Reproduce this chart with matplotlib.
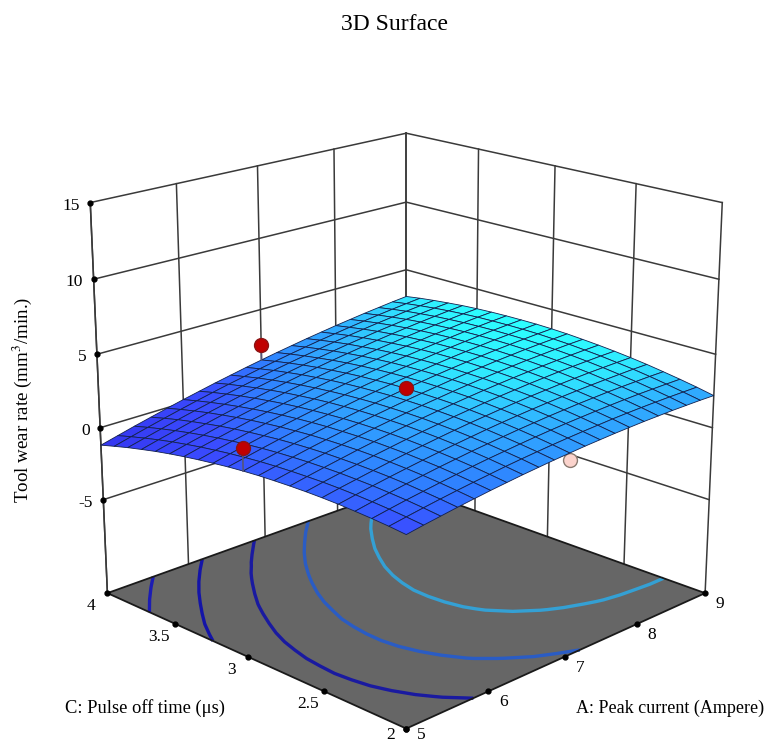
import numpy as np
import matplotlib
matplotlib.use("Agg")
import matplotlib.pyplot as plt
from matplotlib.colors import LinearSegmentedColormap
from mpl_toolkits.mplot3d import proj3d

plt.rcParams['font.family'] = ['Liberation Serif', 'DejaVu Serif']

# axis ticks
a_ticks = [5, 6, 7, 8, 9]
c_ticks = [2, 2.5, 3, 3.5, 4]
c_tick_labels = ['2', '2.5', '3', '3.5', '4']
z_ticks = [-5, 0, 5, 10, 15]
z_floor = -11.65

# surface values, one row per pulse off time (2 .. 4), one column per peak current (5 .. 9)
a_grid = [5.0, 5.2, 5.4, 5.6, 5.8, 6.0, 6.2, 6.4, 6.6, 6.8, 7.0, 7.2, 7.4, 7.6, 7.8, 8.0, 8.2, 8.4, 8.6, 8.8, 9.0]
c_grid = [2.0, 2.1, 2.2, 2.3, 2.4, 2.5, 2.6, 2.7, 2.8, 2.9, 3.0, 3.1, 3.2, 3.3, 3.4, 3.5, 3.6, 3.7, 3.8, 3.9, 4.0]
wear = [
    [.60, .78, .94, 1.10, 1.24, 1.38, 1.50, 1.62, 1.72, 1.82, 1.90, 1.98, 2.04, 2.10, 2.14, 2.18, 2.20, 2.22, 2.22, 2.22, 2.20],
    [.71, .89, 1.06, 1.22, 1.37, 1.51, 1.64, 1.77, 1.88, 1.98, 2.07, 2.15, 2.22, 2.28, 2.34, 2.38, 2.41, 2.43, 2.44, 2.44, 2.44],
    [.79, .98, 1.16, 1.32, 1.48, 1.63, 1.77, 1.90, 2.01, 2.12, 2.22, 2.31, 2.39, 2.45, 2.51, 2.56, 2.60, 2.63, 2.64, 2.65, 2.65],
    [.85, 1.05, 1.23, 1.41, 1.57, 1.73, 1.87, 2.01, 2.13, 2.24, 2.35, 2.44, 2.53, 2.60, 2.67, 2.72, 2.77, 2.80, 2.82, 2.84, 2.84],
    [.90, 1.10, 1.29, 1.47, 1.64, 1.80, 1.95, 2.09, 2.22, 2.35, 2.46, 2.56, 2.65, 2.73, 2.80, 2.86, 2.91, 2.95, 2.98, 3.01, 3.02],
    [.92, 1.13, 1.32, 1.51, 1.69, 1.86, 2.01, 2.16, 2.30, 2.43, 2.54, 2.65, 2.75, 2.84, 2.91, 2.98, 3.04, 3.09, 3.12, 3.15, 3.17],
    [.92, 1.14, 1.34, 1.53, 1.72, 1.89, 2.06, 2.21, 2.35, 2.49, 2.61, 2.73, 2.83, 2.92, 3.01, 3.08, 3.15, 3.20, 3.24, 3.28, 3.30],
    [.90, 1.12, 1.33, 1.53, 1.73, 1.91, 2.08, 2.24, 2.39, 2.53, 2.66, 2.78, 2.89, 2.99, 3.08, 3.16, 3.23, 3.29, 3.34, 3.38, 3.41],
    [.86, 1.09, 1.31, 1.52, 1.71, 1.90, 2.08, 2.24, 2.40, 2.55, 2.68, 2.81, 2.93, 3.04, 3.13, 3.22, 3.30, 3.36, 3.42, 3.47, 3.50],
    [.81, 1.04, 1.26, 1.48, 1.68, 1.87, 2.06, 2.23, 2.39, 2.55, 2.69, 2.82, 2.95, 3.06, 3.16, 3.26, 3.34, 3.42, 3.48, 3.53, 3.58],
    [.73, .97, 1.20, 1.42, 1.63, 1.83, 2.02, 2.20, 2.37, 2.53, 2.68, 2.82, 2.95, 3.07, 3.18, 3.28, 3.37, 3.45, 3.52, 3.58, 3.63],
    [.63, .87, 1.11, 1.34, 1.55, 1.76, 1.95, 2.14, 2.32, 2.48, 2.64, 2.79, 2.92, 3.05, 3.17, 3.27, 3.37, 3.46, 3.53, 3.60, 3.66],
    [.50, .76, 1.00, 1.23, 1.46, 1.67, 1.87, 2.07, 2.25, 2.42, 2.58, 2.74, 2.88, 3.01, 3.14, 3.25, 3.35, 3.45, 3.53, 3.60, 3.66],
    [.36, .62, .87, 1.11, 1.34, 1.56, 1.77, 1.97, 2.16, 2.34, 2.51, 2.67, 2.82, 2.96, 3.09, 3.21, 3.32, 3.42, 3.50, 3.58, 3.65],
    [.20, .47, .72, .97, 1.21, 1.43, 1.65, 1.85, 2.05, 2.24, 2.41, 2.58, 2.73, 2.88, 3.02, 3.14, 3.26, 3.36, 3.46, 3.55, 3.62],
    [.02, .29, .55, .81, 1.05, 1.28, 1.50, 1.72, 1.92, 2.11, 2.29, 2.47, 2.63, 2.78, 2.92, 3.06, 3.18, 3.29, 3.39, 3.49, 3.57],
    [-.18, .10, .36, .62, .87, 1.11, 1.34, 1.56, 1.77, 1.97, 2.16, 2.34, 2.50, 2.66, 2.81, 2.95, 3.08, 3.20, 3.31, 3.41, 3.50],
    [-.41, -.12, .15, .42, .68, .92, 1.16, 1.38, 1.60, 1.80, 2.00, 2.18, 2.36, 2.53, 2.68, 2.83, 2.96, 3.09, 3.20, 3.31, 3.40],
    [-.65, -.36, -.08, .20, .46, .71, .95, 1.18, 1.41, 1.62, 1.82, 2.01, 2.19, 2.37, 2.53, 2.68, 2.82, 2.95, 3.08, 3.19, 3.29],
    [-.92, -.62, -.33, -.05, .22, .48, .73, .97, 1.19, 1.41, 1.62, 1.82, 2.01, 2.19, 2.35, 2.51, 2.66, 2.80, 2.93, 3.05, 3.16],
    [-1.20, -.90, -.60, -.32, -.04, .23, .48, .73, .96, 1.19, 1.40, 1.61, 1.80, 1.99, 2.16, 2.33, 2.48, 2.63, 2.76, 2.89, 3.00],
]

# design points
point_a = [7, 5, 7]
point_c = [4, 3, 3]
point_z = [2.5, 2.25, 2.7]
point_surface = [1.40, .73, 2.68]
low_a = 7
low_c = 2
low_z = 1.45

contour_levels = [-.38, .45, 1.25, 1.98, 2.75]
contour_colors = ['#1c1cb4', '#1414a8', '#1a1aa0', '#2a5cc4', '#34a0d4']

A, C = np.meshgrid(a_grid, c_grid)
Z = np.array(wear)

fig = plt.figure(figsize=(7.71, 7.42), dpi=100)
ax = fig.add_axes([37.3 / 771, -30.25 / 742, 718.5 / 771, 718.5 / 742], projection='3d')
ax.set_proj_type('persp', focal_length=0.62)
ax.view_init(elev=19, azim=-135)
ax.set_box_aspect((1, 1, 0.95))
ax.set_xlim(a_ticks[0], a_ticks[-1])
ax.set_ylim(c_ticks[0], c_ticks[-1])
ax.set_zlim(z_floor, z_ticks[-1])
ax.set_axis_off()
ax.computed_zorder = False

a0, a1 = a_ticks[0], a_ticks[-1]
c0, c1 = c_ticks[0], c_ticks[-1]
wall = '#3a3a3a'

# walls
for t in a_ticks:
    ax.plot([t, t], [c1, c1], [z_floor, z_ticks[-1]], color=wall, lw=1.1, zorder=1)
for t in c_ticks:
    ax.plot([a1, a1], [t, t], [z_floor, z_ticks[-1]], color=wall, lw=1.1, zorder=1)
for t in z_ticks:
    ax.plot([a0, a1], [c1, c1], [t, t], color=wall, lw=1.1, zorder=1)
    ax.plot([a1, a1], [c0, c1], [t, t], color=wall, lw=1.1, zorder=1)

# floor and its contours
ax.plot_surface(np.array([[a0, a1], [a0, a1]]), np.array([[c0, c0], [c1, c1]]),
                np.full((2, 2), z_floor), color='#666666', shade=False, linewidth=0, zorder=2)
ax.contour(A, C, Z, levels=contour_levels, colors=contour_colors, linewidths=2.4,
           zdir='z', offset=z_floor, zorder=3)
ax.plot([a0, a1, a1, a0, a0], [c0, c0, c1, c1, c0], [z_floor] * 5, color='#1a1a1a', lw=1.3, zorder=4)

# low point sits behind the surface edge
ax.plot([low_a, low_a], [low_c, low_c], [low_z, 1.9], color='#555555', lw=1, zorder=5)
ax.plot([low_a], [low_c], [low_z], 'o', ms=10, mfc='#fbd3cc', mec='#8a7a70', mew=1, zorder=5)

cmap = LinearSegmentedColormap.from_list('wear', [
    (0.0, '#3434ee'), (0.38, '#3a4cff'), (0.55, '#2f80ff'), (0.75, '#30b0ff'), (0.88, '#30e8ff'), (1.0, '#2dffff')])
ax.plot_surface(A, C, Z, rstride=1, cstride=1, cmap=cmap, vmin=Z.min(), vmax=Z.max(),
                shade=False, edgecolor='#12204e', linewidth=0.6, antialiased=True, zorder=6)

# design points over the surface
for a, c, z, s in zip(point_a, point_c, point_z, point_surface):
    ax.plot([a, a], [c, c], [z, s], color='#555577', lw=1.2, zorder=7)
ax.plot(point_a, point_c, point_z, 'o', ms=10, mfc='#c00000', mec='#8c1414', mew=1, ls='none', zorder=8)

ax.plot([a0, a0], [c1, c1], [z_floor, z_ticks[-1]], color=wall, lw=1.1, zorder=1)

fig.canvas.draw()


def label_at(a, c, z, text, dx, dy, ha='center'):
    # tick label placed in pixels from the projected tick
    x2, y2, _ = proj3d.proj_transform(a, c, z, ax.get_proj())
    px, py = ax.transData.transform((x2, y2))
    fig.text((px + dx) / 771, (py - dy) / 742, text, fontsize=12.5, ha=ha, va='center')


# tick dots and labels
for t in a_ticks:
    ax.plot([t], [c0], [z_floor], 'o', ms=3.5, color='k', zorder=9)
    label_at(t, c0, z_floor, str(t), 15, 6 if t == a0 else 11)
for t, s in zip(c_ticks, c_tick_labels):
    ax.plot([a0], [t], [z_floor], 'o', ms=3.5, color='k', zorder=9)
    label_at(a0, t, z_floor, s, -16, 6 if t == c0 else 13)
for t in z_ticks:
    ax.plot([a0], [c1], [t], 'o', ms=3.5, color='k', zorder=9)
    label_at(a0, c1, t, str(t), -10.5, 3, ha='right')

fig.text(395 / 771, 1 - 25 / 742, '3D Surface', fontsize=17, ha='center', va='center')
fig.text(670 / 771, 1 - 708 / 742, 'A: Peak current (Ampere)', fontsize=13, ha='center', va='center')
fig.text(145 / 771, 1 - 708 / 742, 'C: Pulse off time (\u03bcs)', fontsize=13.3, ha='center', va='center')
fig.text(22 / 771, 1 - 400 / 742, 'Tool wear rate (mm$^{3}$/min.)', fontsize=13.7, rotation=90,
         ha='center', va='center', math_fontfamily='stix')

fig.savefig('out.png', dpi=100)
